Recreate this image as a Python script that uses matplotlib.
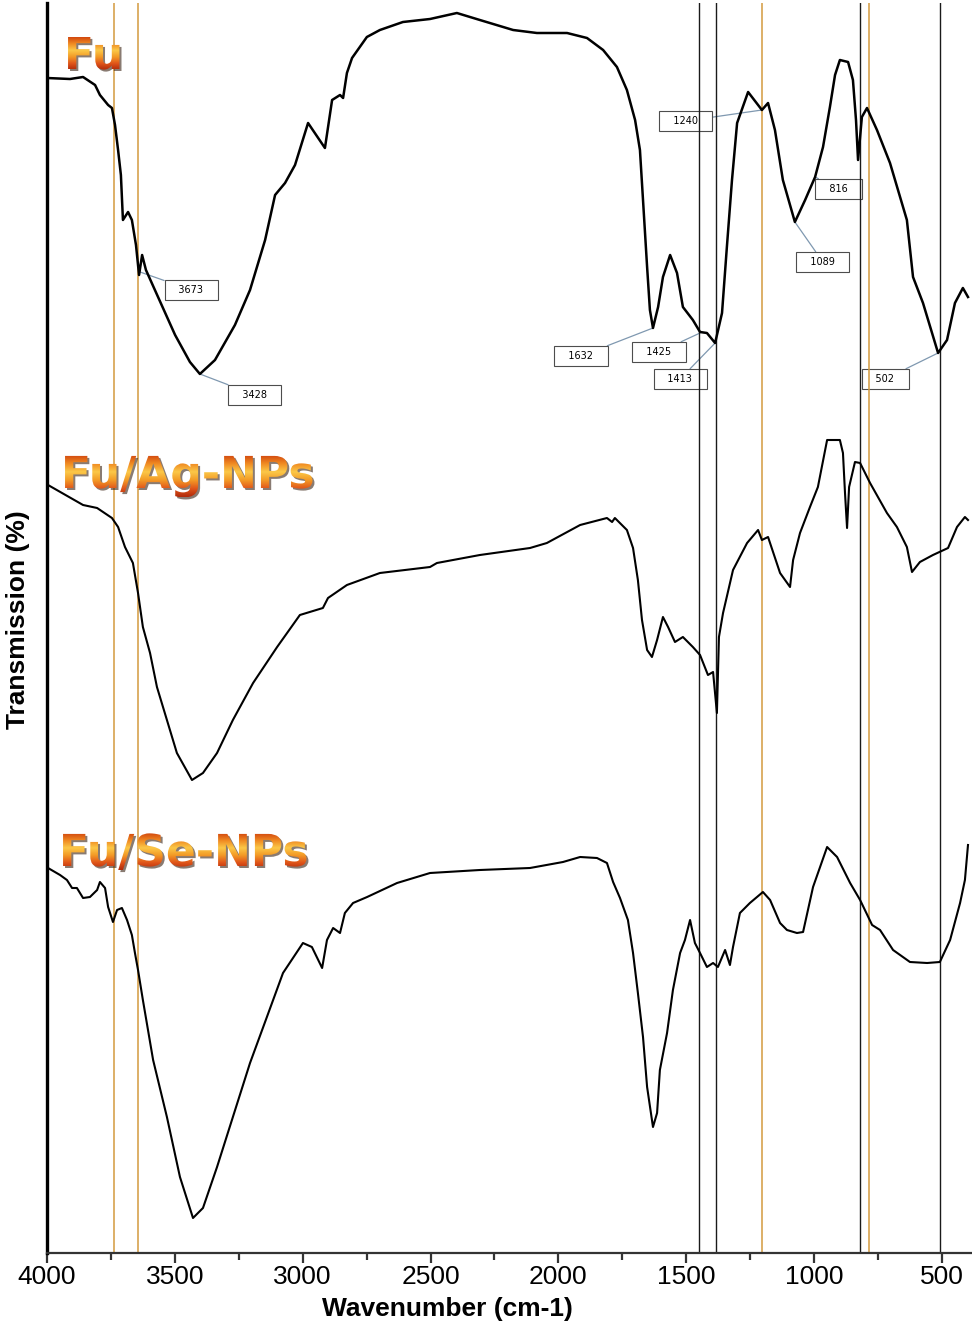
import numpy as np
import matplotlib
matplotlib.use('Agg')
import matplotlib.pyplot as plt
import matplotlib.transforms as mtransforms
from matplotlib.textpath import TextPath
from matplotlib.patches import PathPatch
from matplotlib.font_manager import FontProperties
from matplotlib.colors import LinearSegmentedColormap
from matplotlib.ticker import MultipleLocator

# FTIR spectra (wavenumber cm-1, transmission in arbitrary stacked units)
fu_wn = [4000, 3910, 3859, 3812, 3793, 3761, 3746, 3734, 3722, 3711, 3703, 3683, 3668, 3652, 3640,
         3628, 3613, 3578, 3499, 3441, 3402, 3343, 3265, 3206, 3147, 3108, 3069, 3030, 2979, 2913,
         2885, 2854, 2842, 2827, 2807, 2749, 2698, 2608, 2502, 2397, 2307, 2177, 2084, 1966, 1888,
         1825, 1771, 1732, 1700, 1681, 1669, 1653, 1642, 1630, 1610, 1591, 1563, 1536, 1513, 1474,
         1446, 1419, 1387, 1360, 1341, 1321, 1301, 1258, 1204, 1180, 1153, 1122, 1075, 1035, 996,
         965, 938, 918, 899, 867, 848, 836, 828, 813, 793, 754, 703, 637, 613, 574,
         515, 480, 449, 418, 398]
fu_t = [1175, 1174, 1176, 1168, 1158, 1148, 1145, 1128, 1103, 1078, 1033, 1041, 1033, 1008, 978,
        998, 983, 963, 918, 891, 879, 893, 928, 963, 1013, 1058, 1070, 1088, 1130, 1105,
        1153, 1158, 1155, 1180, 1195, 1216, 1223, 1231, 1234, 1240, 1233, 1223, 1220, 1220, 1215,
        1203, 1186, 1163, 1133, 1103, 1053, 986, 943, 925, 946, 976, 998, 980, 946, 933,
        921, 920, 910, 940, 1006, 1073, 1130, 1161, 1143, 1150, 1123, 1073, 1031, 1053, 1076,
        1106, 1146, 1178, 1193, 1191, 1173, 1133, 1093, 1136, 1145, 1123, 1090, 1033, 976, 950,
        900, 913, 950, 965, 956]

ag_wn = [3996, 3859, 3804, 3746, 3722, 3695, 3664, 3644, 3625, 3597, 3570, 3531, 3492, 3433, 3390,
         3335, 3273, 3194, 3100, 3011, 2921, 2901, 2827, 2698, 2502, 2475, 2307, 2111, 2045, 1915,
         1810, 1790, 1779, 1732, 1708, 1689, 1673, 1653, 1634, 1614, 1591, 1571, 1544, 1513, 1474,
         1446, 1415, 1395, 1380, 1372, 1356, 1317, 1262, 1219, 1204, 1180, 1133, 1094, 1082, 1055,
         1016, 985, 949, 899, 887, 879, 871, 863, 840, 820, 781, 715, 676, 637, 617,
         586, 535, 476, 441, 410, 398]
ag_t = [768, 748, 745, 735, 726, 706, 690, 660, 626, 600, 566, 533, 500, 473, 480,
        500, 533, 570, 606, 638, 645, 655, 668, 680, 686, 690, 698, 705, 710, 728,
        735, 731, 735, 723, 705, 673, 633, 603, 596, 613, 636, 626, 611, 616, 606,
        598, 578, 581, 540, 616, 640, 683, 710, 723, 713, 716, 680, 666, 693, 720,
        746, 766, 813, 813, 800, 760, 725, 766, 791, 790, 770, 740, 726, 706, 681,
        691, 698, 705, 726, 736, 733]

se_wn = [3996, 3949, 3922, 3902, 3883, 3859, 3832, 3804, 3793, 3773, 3761, 3742, 3726, 3707, 3687,
         3668, 3656, 3644, 3625, 3585, 3531, 3480, 3429, 3390, 3335, 3273, 3206, 3140, 3077, 2999,
         2964, 2924, 2905, 2881, 2854, 2835, 2803, 2748, 2631, 2502, 2307, 2111, 1982, 1915, 1849,
         1810, 1786, 1759, 1728, 1708, 1689, 1669, 1653, 1630, 1614, 1603, 1575, 1552, 1524, 1505,
         1485, 1466, 1446, 1419, 1395, 1376, 1348, 1329, 1317, 1290, 1251, 1200, 1172, 1133, 1106,
         1067, 1043, 1004, 949, 910, 859, 820, 773, 742, 691, 625, 558, 508, 468, 429,
         410, 398]
se_t = [385, 378, 373, 365, 365, 355, 356, 363, 371, 365, 346, 331, 343, 345, 333,
        318, 300, 283, 253, 193, 136, 76, 35, 45, 86, 136, 190, 236, 280, 310,
        306, 285, 313, 325, 320, 340, 350, 356, 370, 380, 383, 385, 391, 396, 395,
        390, 371, 355, 333, 300, 260, 216, 166, 126, 140, 183, 220, 263, 300, 313,
        333, 310, 300, 286, 290, 286, 303, 288, 306, 340, 350, 361, 353, 330, 323,
        320, 321, 366, 406, 396, 370, 353, 328, 323, 303, 291, 290, 291, 313, 350,
        373, 408]

sample_names = ['Fu', 'Fu/Ag-NPs', 'Fu/Se-NPs']

black_lines = [1450, 1384, 820, 508]
orange_lines = [3737, 3645, 1204, 785]

peak_labels = ['3673', '3428', '1632', '1425', '1413', '1240', '1089', '816', '502']
peak_wn = [3636, 3402, 1630, 1446, 1387, 1204, 1075, 996, 515]
peak_t = [981, 879, 925, 920, 910, 1143, 1031, 1076, 900]
# box offsets from the peak, in pixels
box_off = [(51, -18), (55, -21), (-72, -28), (-41, -19), (-35, -36),
           (-76, -11), (28, -40), (23, -12), (-53, -26)]

W, H = 972, 1332
fig = plt.figure(figsize=(W / 100, H / 100), dpi=100)
ax = fig.add_axes([47 / W, (H - 1253) / H, (W - 47) / W, 1250 / H])

ax.plot(fu_wn, fu_t, color='black', lw=1.8, zorder=3)
ax.plot(ag_wn, ag_t, color='black', lw=1.5, zorder=3)
ax.plot(se_wn, se_t, color='black', lw=1.5, zorder=3)

for w in black_lines:
    ax.axvline(w, color='#1a1a1a', lw=1.0, zorder=2)
for w in orange_lines:
    ax.axvline(w, color='#D39A3E', lw=1.1, zorder=2)

for lab, w, t, off in zip(peak_labels, peak_wn, peak_t, box_off):
    ax.annotate('   ' + lab + '   ', xy=(w, t), xytext=off, textcoords='offset pixels',
                ha='center', va='center', fontsize=7, family='DejaVu Sans',
                bbox=dict(boxstyle='square,pad=0.5', fc='white', ec='#4d4d4d', lw=0.8),
                arrowprops=dict(arrowstyle='-', color='#7F98B0', lw=0.9,
                                shrinkA=0, shrinkB=0), zorder=1)

ax.set_xlim(4000, 4000 - (W - 47) * 3.911)
ax.set_ylim(0, 1250)
ax.xaxis.set_major_locator(MultipleLocator(500))
ax.xaxis.set_minor_locator(MultipleLocator(250))
ax.tick_params(axis='x', which='major', direction='out', length=7, width=1.6,
               labelsize=19, pad=2, color='#333333')
ax.tick_params(axis='x', which='minor', direction='out', length=5, width=1.6, color='#333333')
ax.set_yticks([])
for s in ['top', 'right']:
    ax.spines[s].set_visible(False)
ax.spines['left'].set_linewidth(2.4)
ax.spines['left'].set_color('black')
ax.spines['bottom'].set_linewidth(1.6)
ax.spines['bottom'].set_color('#333333')
for lbl in ax.get_xticklabels():
    lbl.set_family('Liberation Sans')

fig.text(18 / W, 1 - 620 / H, 'Transmission (%)', rotation=90, ha='center', va='center',
         fontsize=19, fontweight='bold', family='Liberation Sans')
fig.text(447 / W, 1 - 1309 / H, 'Wavenumber (cm-1)', ha='center', va='center',
         fontsize=19, fontweight='bold', family='Liberation Sans')

# fire-coloured sample titles on an overlay
ov = fig.add_axes([0, 0, 1, 1])
ov.patch.set_alpha(0)
ov.axis('off')
fire = LinearSegmentedColormap.from_list(
    'fire', ['#B02A0A', '#E0551A', '#F39A26', '#FBC848', '#F08A22', '#D2480F'])
fp = FontProperties(family='DejaVu Sans', weight='bold')
title_pos = [(64, 69), (61, 488), (59, 866)]
grad = np.linspace(0, 1, 200).reshape(-1, 1)
for name, (x, base) in zip(sample_names, title_pos):
    tp = TextPath((0, 0), name, size=44, prop=fp)
    y0 = H - base
    sh = mtransforms.Affine2D().translate(x + 2, y0 - 2).transform_path(tp)
    ov.add_patch(PathPatch(sh, fc='#3b2414', ec='none', alpha=0.6, zorder=1))
    p = mtransforms.Affine2D().translate(x, y0).transform_path(tp)
    patch = PathPatch(p, fc='none', ec='none', zorder=2)
    ov.add_patch(patch)
    bb = p.get_extents()
    im = ov.imshow(grad, cmap=fire, origin='lower', aspect='auto', zorder=3,
                   extent=[bb.x0, bb.x1, bb.y0, bb.y1])
    im.set_clip_path(patch)
ov.set_xlim(0, W)
ov.set_ylim(0, H)

fig.savefig('out.png', dpi=100)
